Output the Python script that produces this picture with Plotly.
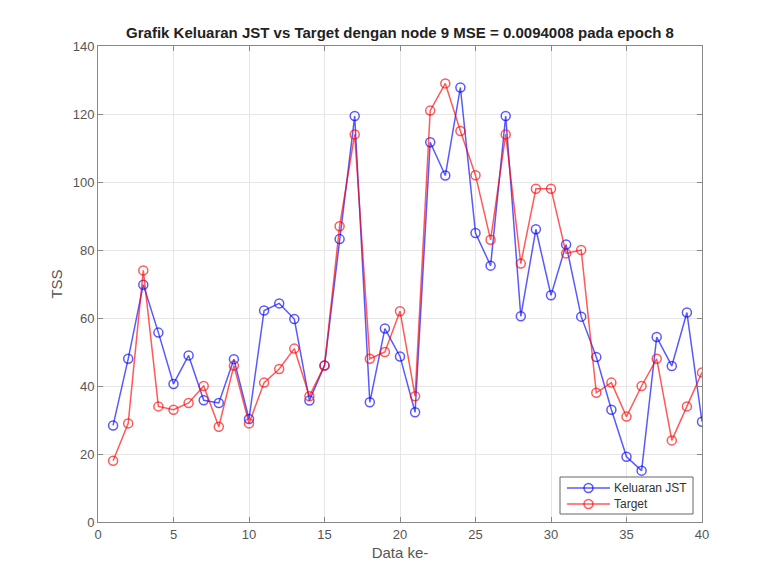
import plotly.graph_objects as go

data_idx = list(range(1, 41))
keluaran_jst = [28.4, 48.0, 69.8, 55.7, 40.6, 49.0, 35.8, 35.0, 47.9, 30.3,
                62.2, 64.3, 59.7, 35.7, 46.0, 83.2, 119.4, 35.2, 56.9, 48.7,
                32.3, 111.7, 101.9, 127.8, 85.0, 75.4, 119.4, 60.5, 86.1, 66.7,
                81.6, 60.4, 48.5, 33.0, 19.2, 15.1, 54.4, 45.9, 61.6, 29.5]
target = [18, 29, 74, 34, 33, 35, 40, 28, 46, 29,
          41, 45, 51, 37, 46, 87, 114, 48, 50, 62,
          37, 121, 129, 115, 102, 83, 114, 76, 98, 98,
          79, 80, 38, 41, 31, 40, 48, 24, 34, 44]
series_names = ["Keluaran JST", "Target"]
series_colors = ["rgba(0,0,255,0.65)", "rgba(255,0,0,0.65)"]

x_ticks = [0, 5, 10, 15, 20, 25, 30, 35, 40]
y_ticks = [0, 20, 40, 60, 80, 100, 120, 140]

W, H = 765, 581
L, R, T, B = 98, 63, 46, 59
PW, PH = W - L - R, H - T - B


def px(xp):
    return (xp - L) / PW


def py(yp):
    return (H - B - yp) / PH


fig = go.Figure()
for name, vals, col in zip(series_names, [keluaran_jst, target], series_colors):
    fig.add_trace(go.Scatter(
        x=data_idx, y=vals, mode="lines+markers", name=name,
        line=dict(color=col, width=1.5),
        marker=dict(symbol="circle-open", size=9, color=col,
                    line=dict(width=1.5, color=col)),
        showlegend=False,
    ))

FONT = "Liberation Sans, Arial"
axis_common = dict(
    showline=True, linecolor="#888888", linewidth=1, mirror="ticks",
    ticks="inside", ticklen=5, tickcolor="#888888",
    showgrid=True, gridcolor="#e6e6e6", gridwidth=1, zeroline=False,
    tickfont=dict(family=FONT, size=13, color="#555555"),
)

# legend box (drawn as decoration, MATLAB-style compact legend)
shapes = [dict(type="rect", xref="paper", yref="paper", layer="above",
               x0=px(560), x1=px(693), y0=py(514), y1=py(477),
               fillcolor="white", line=dict(color="#666666", width=1))]
annotations = []
for i, (name, col) in enumerate(zip(series_names, series_colors)):
    yc = 488 + i * 16
    shapes.append(dict(type="line", xref="paper", yref="paper", layer="above",
                       x0=px(567), x1=px(610), y0=py(yc), y1=py(yc),
                       line=dict(color=col, width=1.5)))
    shapes.append(dict(type="circle", xref="paper", yref="paper", layer="above",
                       x0=px(588.5 - 4.5), x1=px(588.5 + 4.5),
                       y0=py(yc + 4.5), y1=py(yc - 4.5),
                       fillcolor="rgba(0,0,0,0)", line=dict(color=col, width=1.5)))
    annotations.append(dict(xref="paper", yref="paper", x=px(612), y=py(yc),
                            xanchor="left", yanchor="middle", showarrow=False,
                            text=name, font=dict(family=FONT, size=12, color="#333333")))

fig.update_layout(
    width=W, height=H,
    margin=dict(l=L, r=R, t=T, b=B),
    paper_bgcolor="white", plot_bgcolor="white",
    title=dict(text="<b>Grafik Keluaran JST vs Target dengan node 9 MSE = 0.0094008 pada epoch 8</b>",
               x=400 / W, xanchor="center", y=1 - 33 / H, yanchor="middle",
               font=dict(family=FONT, size=15, color="#222222")),
    xaxis=dict(range=[0, 40], tickvals=x_ticks,
               title=dict(text="Data ke-", standoff=6,
                          font=dict(family=FONT, size=15, color="#555555")),
               **axis_common),
    yaxis=dict(range=[0, 140], tickvals=y_ticks,
               title=dict(text="TSS", standoff=6,
                          font=dict(family=FONT, size=15, color="#555555")),
               **axis_common),
    shapes=shapes,
    annotations=annotations,
    showlegend=False,
)

fig.write_html("out.html")
